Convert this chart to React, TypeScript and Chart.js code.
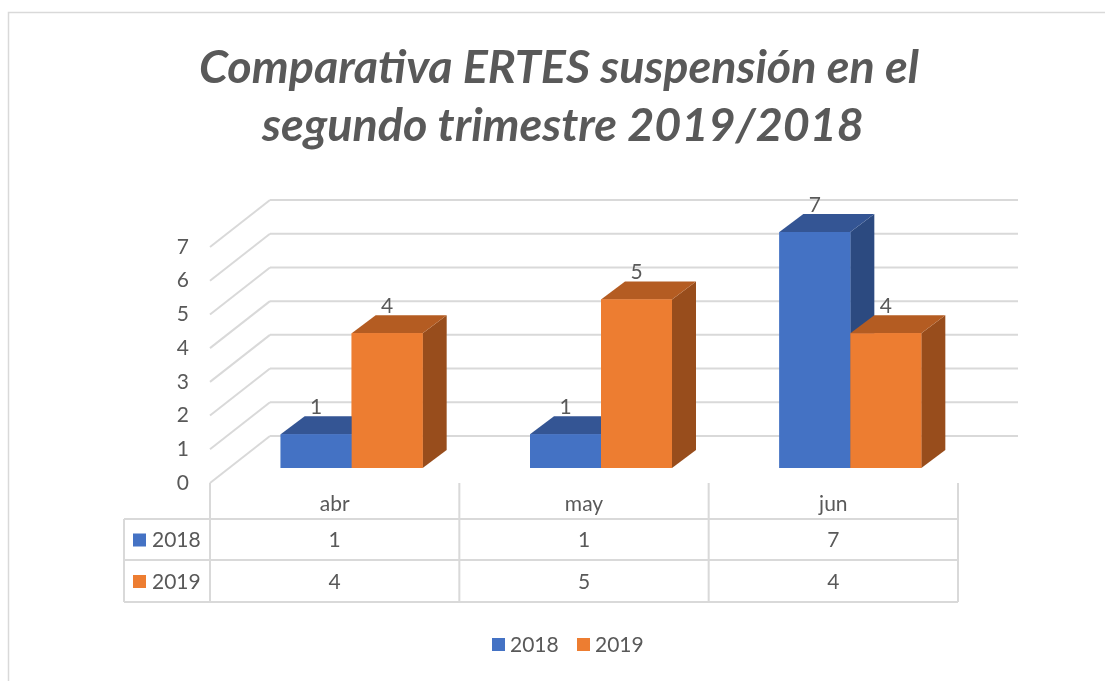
import React, { useEffect, useRef } from "react";
import { Chart, registerables } from "chart.js";

Chart.register(...registerables);

const titleLines = ["Comparativa ERTES suspensión en el", "segundo trimestre 2019/2018"];
const categories = ["abr", "may", "jun"];
const seriesNames = ["2018", "2019"];
const values2018 = [1, 1, 7];
const values2019 = [4, 5, 4];
const yTicks = [0, 1, 2, 3, 4, 5, 6, 7];

const FRONT = ["#4472C4", "#ED7D31"];
const TOP = ["#345594", "#B45C22"];
const SIDE = ["#2C4A80", "#984D1C"];
const TEXT = "#595959";
const GRID = "#D9D9D9";
const FONT = 'Lato, "Open Sans", sans-serif';

// depth geometry (relative to bar front plane)
const FX = -17, FY = 15; // front (label) plane
const BX = 43, BY = -32; // back wall
const DX = 24, DY = -18; // bar depth

const plugin3d = {
  id: "plugin3d",
  beforeDatasetsDraw(chart: any) {
    const { ctx, scales, chartArea } = chart;
    const y = scales.y;
    ctx.save();
    ctx.strokeStyle = GRID;
    ctx.lineWidth = 1.5;
    ctx.strokeRect(8.5, 12.5, 1300, 900);
    ctx.lineWidth = 2;
    ctx.strokeStyle = GRID;
    ctx.font = `21px ${FONT}`;
    ctx.fillStyle = TEXT;
    ctx.textAlign = "right";
    ctx.textBaseline = "middle";
    yTicks.forEach((v) => {
      const yp = y.getPixelForValue(v);
      ctx.beginPath();
      ctx.moveTo(chartArea.left + BX, yp + BY);
      ctx.lineTo(chartArea.right + BX, yp + BY);
      ctx.stroke();
      ctx.beginPath();
      ctx.moveTo(chartArea.left + FX, yp + FY);
      ctx.lineTo(chartArea.left + BX, yp + BY);
      ctx.stroke();
      ctx.fillText(String(v), chartArea.left + FX - 21, yp + FY);
    });
    ctx.restore();
  },
  afterDatasetsDraw(chart: any) {
    const { ctx } = chart;
    ctx.save();
    chart.data.datasets.forEach((_ds: any, idx: number) => {
      const meta = chart.getDatasetMeta(idx);
      meta.data.forEach((el: any) => {
        const p = el.getProps(["x", "y", "base", "width"], true);
        const x0 = p.x - p.width / 2;
        const x1 = p.x + p.width / 2;
        const yt = p.y;
        const yb = p.base;
        ctx.fillStyle = SIDE[idx];
        ctx.beginPath();
        ctx.moveTo(x1, yt);
        ctx.lineTo(x1 + DX, yt + DY);
        ctx.lineTo(x1 + DX, yb + DY);
        ctx.lineTo(x1, yb);
        ctx.closePath();
        ctx.fill();
        ctx.fillStyle = TOP[idx];
        ctx.beginPath();
        ctx.moveTo(x0, yt);
        ctx.lineTo(x1, yt);
        ctx.lineTo(x1 + DX, yt + DY);
        ctx.lineTo(x0 + DX, yt + DY);
        ctx.closePath();
        ctx.fill();
        ctx.fillStyle = FRONT[idx];
        ctx.fillRect(x0, yt, x1 - x0, yb - yt);
      });
    });
    ctx.restore();
  },
  afterDraw(chart: any) {
    const { ctx, scales, chartArea } = chart;
    const y = scales.y;
    ctx.save();
    ctx.fillStyle = TEXT;
    ctx.font = `21px ${FONT}`;
    ctx.textAlign = "center";
    ctx.textBaseline = "middle";
    chart.data.datasets.forEach((ds: any, di: number) => {
      const meta = chart.getDatasetMeta(di);
      meta.data.forEach((el: any, i: number) => {
        const p = el.getProps(["x", "y"], true);
        ctx.fillText(String(ds.data[i]), p.x, p.y - 27);
      });
    });
    // title
    ctx.font = `italic bold 46px ${FONT}`;
    const w = ctx.measureText(titleLines[0]).width;
    const size = 46 * (720 / w);
    ctx.font = `italic bold ${size.toFixed(1)}px ${FONT}`;
    ctx.textBaseline = "alphabetic";
    ctx.fillText(titleLines[0], 559, 83);
    ctx.fillText(titleLines[1], 563, 141);

    // data table
    const cw = (chartArea.right - chartArea.left) / categories.length;
    const tl = chartArea.left + FX;
    const tr = chartArea.right + FX;
    const top = y.getPixelForValue(0) + FY;
    const r1 = top + 36;
    const r2 = r1 + 41;
    const r3 = r2 + 42;
    const left = 124;
    ctx.strokeStyle = GRID;
    ctx.lineWidth = 2;
    ctx.beginPath();
    for (let i = 0; i <= categories.length; i++) {
      const xx = tl + i * cw;
      ctx.moveTo(xx, top);
      ctx.lineTo(xx, r3);
    }
    ctx.moveTo(left, r1);
    ctx.lineTo(left, r3);
    [r1, r2, r3].forEach((yy) => {
      ctx.moveTo(left, yy);
      ctx.lineTo(tr, yy);
    });
    ctx.stroke();

    ctx.font = `21px ${FONT}`;
    ctx.textBaseline = "middle";
    ctx.textAlign = "center";
    categories.forEach((c, i) => {
      const cx = tl + (i + 0.5) * cw;
      ctx.fillText(c, cx, (top + r1) / 2 + 3);
      ctx.fillText(String(values2018[i]), cx, (r1 + r2) / 2 + 1);
      ctx.fillText(String(values2019[i]), cx, (r2 + r3) / 2 + 1);
    });
    const rowsMid = [(r1 + r2) / 2, (r2 + r3) / 2];
    seriesNames.forEach((s, i) => {
      ctx.fillStyle = FRONT[i];
      ctx.fillRect(133, rowsMid[i] - 6, 13, 13);
      ctx.fillStyle = TEXT;
      ctx.textAlign = "left";
      ctx.fillText(s, 152, rowsMid[i] + 1);
    });

    // bottom legend
    const lx = [492, 577];
    seriesNames.forEach((s, i) => {
      ctx.fillStyle = FRONT[i];
      ctx.fillRect(lx[i], 638, 13, 13);
      ctx.fillStyle = TEXT;
      ctx.textAlign = "left";
      ctx.fillText(s, lx[i] + 18, 645);
    });
    ctx.restore();
  },
};

export default function App() {
  const ref = useRef<HTMLCanvasElement | null>(null);
  useEffect(() => {
    if (!ref.current) return;
    const chart = new Chart(ref.current, {
      type: "bar",
      data: {
        labels: categories,
        datasets: [
          { label: seriesNames[0], data: values2018, backgroundColor: FRONT[0] },
          { label: seriesNames[1], data: values2019, backgroundColor: FRONT[1] },
        ],
      },
      options: {
        responsive: false,
        animation: false,
        devicePixelRatio: 1,
        layout: { padding: { left: 227, right: 130, top: 232, bottom: 213 } },
        datasets: { bar: { categoryPercentage: 0.5695, barPercentage: 1, borderWidth: 0 } },
        scales: {
          x: { display: false },
          y: { display: false, min: 0, max: 7 },
        },
        plugins: { legend: { display: false }, title: { display: false }, tooltip: { enabled: false } },
      },
      plugins: [plugin3d],
    } as any);
    return () => chart.destroy();
  }, []);
  return (
    <div style={{ position: "fixed", left: 0, top: 0, width: 1105, height: 681, background: "#fff" }}>
      <canvas ref={ref} width={1105} height={681} style={{ display: "block" }} />
    </div>
  );
}
